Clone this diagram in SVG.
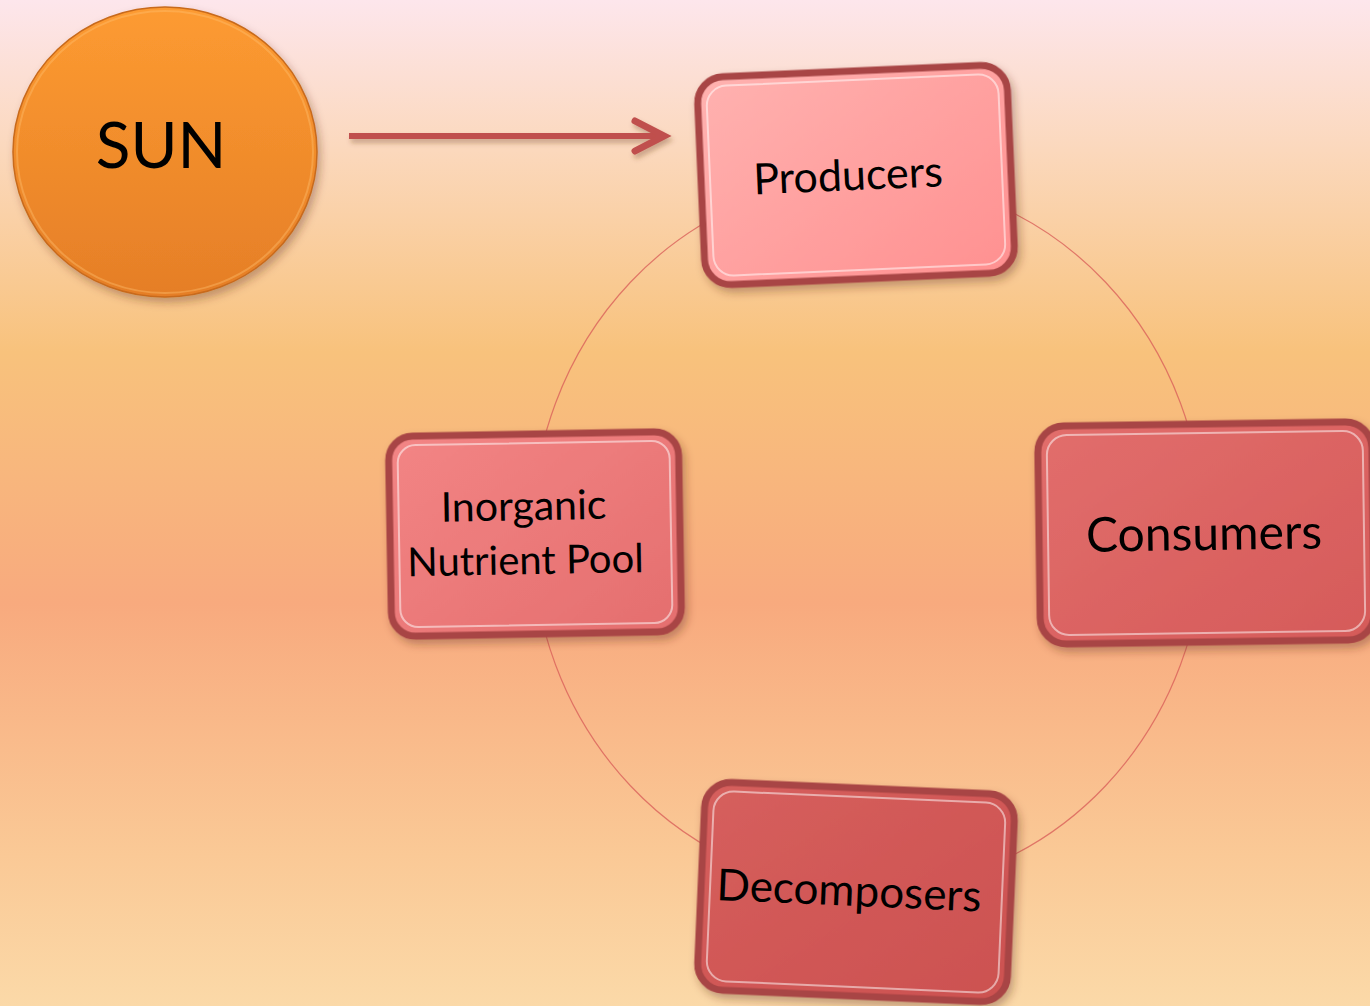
<svg xmlns="http://www.w3.org/2000/svg" width="1370" height="1006" viewBox="0 0 1370 1006">
<defs>
<linearGradient id="bg" x1="0" y1="0" x2="0" y2="1">
<stop offset="0" stop-color="#fde6ec"/>
<stop offset="0.15" stop-color="#fbd8bc"/>
<stop offset="0.35" stop-color="#f8c27c"/>
<stop offset="0.6" stop-color="#f8aa7e"/>
<stop offset="0.85" stop-color="#fac996"/>
<stop offset="1" stop-color="#fbd9a8"/>
</linearGradient>
<linearGradient id="sunFill" x1="0" y1="0" x2="0" y2="1">
<stop offset="0" stop-color="#fd9b31"/>
<stop offset="1" stop-color="#e57e27"/>
</linearGradient>
<linearGradient id="gProd" x1="0" y1="0" x2="1" y2="1">
<stop offset="0" stop-color="#ffb2b0"/>
<stop offset="1" stop-color="#ff9090"/>
</linearGradient>
<linearGradient id="gInorg" x1="0" y1="0" x2="1" y2="1">
<stop offset="0" stop-color="#f38585"/>
<stop offset="1" stop-color="#e46e6e"/>
</linearGradient>
<linearGradient id="gCons" x1="0" y1="0" x2="1" y2="1">
<stop offset="0" stop-color="#e26e6c"/>
<stop offset="1" stop-color="#d55a59"/>
</linearGradient>
<linearGradient id="gDec" x1="0" y1="0" x2="1" y2="1">
<stop offset="0" stop-color="#d65f5d"/>
<stop offset="1" stop-color="#cc5150"/>
</linearGradient>
<filter id="shadow" x="-20%" y="-20%" width="140%" height="140%">
<feDropShadow dx="3" dy="5" stdDeviation="4" flood-color="#5a2a20" flood-opacity="0.35"/>
</filter>
<filter id="ashadow" x="-10%" y="-50%" width="120%" height="200%">
<feDropShadow dx="2" dy="4" stdDeviation="2.5" flood-color="#6a3a20" flood-opacity="0.35"/>
</filter>
</defs>
<style>
.rim{stroke:#a84444;stroke-width:7}
.hl{fill:none;stroke:#ffffff;stroke-opacity:0.5;stroke-width:2}
.lbl{font-family:Lato,"Noto Sans",sans-serif;fill:#000;text-anchor:middle}
.cyc{fill:none;stroke:#d9605a;stroke-width:1.2;stroke-opacity:0.8}
</style>
<rect width="1370" height="1006" fill="url(#bg)"/>
<g id="connectors">
<ellipse class="cyc" cx="868" cy="534" rx="336" ry="356"/>
<g filter="url(#ashadow)">
<line x1="349" y1="136" x2="661" y2="136" stroke="#c0504d" stroke-width="6"/>
<polyline points="635,121 664,136 635,151" fill="none" stroke="#c0504d" stroke-width="7" stroke-linecap="round" stroke-linejoin="miter"/>
</g>
</g>
<g id="sun">
<ellipse cx="165" cy="152" rx="152" ry="145" fill="url(#sunFill)" stroke="#c86a1c" stroke-width="1.5" filter="url(#shadow)"/>
<ellipse cx="165" cy="152" rx="148" ry="141" fill="none" stroke="#ffc070" stroke-opacity="0.4" stroke-width="2"/>
<text class="lbl" x="161" y="168" font-size="64">SUN</text>
</g>
<g id="producers" transform="rotate(-2.5 856 175)">
<rect x="701" y="71" width="310" height="208" rx="26" fill="url(#gProd)" class="rim" filter="url(#shadow)"/>
<rect x="710" y="80" width="292" height="190" rx="20" class="hl"/>
<text class="lbl" x="848" y="190" font-size="43">Producers</text>
</g>
<g id="inorganic" transform="rotate(-1 535 534)">
<rect x="390" y="434" width="290" height="200" rx="24" fill="url(#gInorg)" class="rim" filter="url(#shadow)"/>
<rect x="399" y="443" width="272" height="182" rx="18" class="hl"/>
<text class="lbl" x="524" y="520" font-size="41">Inorganic</text>
<text class="lbl" x="525" y="574" font-size="40">Nutrient Pool</text>
</g>
<g id="consumers" transform="rotate(-0.8 1203 533)">
<rect x="1039" y="424" width="334" height="218" rx="26" fill="url(#gCons)" class="rim" filter="url(#shadow)"/>
<rect x="1048" y="433" width="316" height="200" rx="20" class="hl"/>
<text class="lbl" x="1204" y="550" font-size="48">Consumers</text>
</g>
<g id="decomposers" transform="rotate(2.5 856 892)">
<rect x="701" y="788" width="310" height="208" rx="26" fill="url(#gDec)" class="rim" filter="url(#shadow)"/>
<rect x="710" y="797" width="292" height="190" rx="20" class="hl"/>
<text class="lbl" x="849" y="906" font-size="44">Decomposers</text>
</g>
</svg>
